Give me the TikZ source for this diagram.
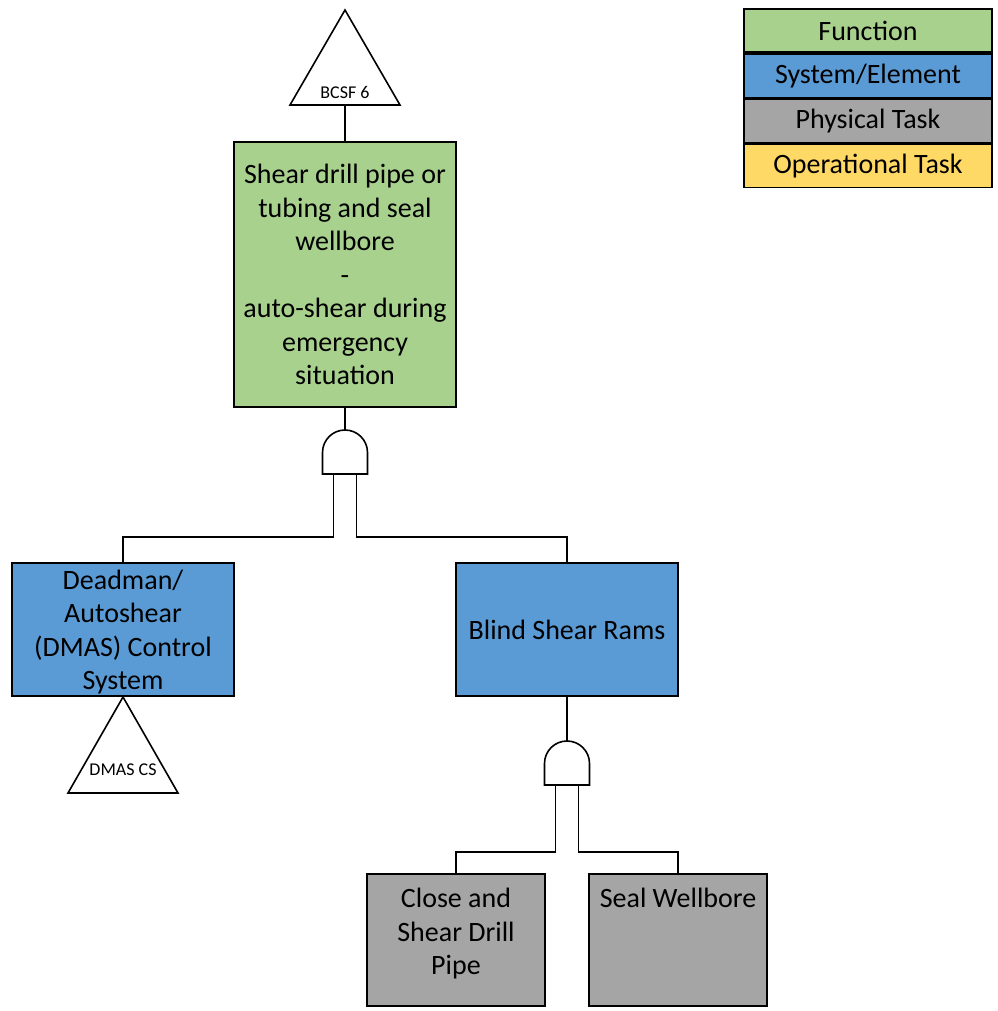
\documentclass[tikz,border=0pt]{standalone}
\usepackage{fontspec}
\setmainfont{Carlito}
\definecolor{fgreen}{HTML}{A9D18E}
\definecolor{fblue}{HTML}{5B9BD5}
\definecolor{fgray}{HTML}{A5A5A5}
\definecolor{fyellow}{HTML}{FFD966}
\tikzset{
  box/.style={draw=black, line width=1.6pt, inner sep=0pt, align=center,
    font=\fontsize{28}{33.5}\selectfont},
  boxtext/.style={inner sep=0pt, align=center, font=\fontsize{28}{33.5}\selectfont},
  legendbox/.style={draw=black, line width=1.6pt, inner sep=0pt,
    minimum width=248pt, minimum height=43.5pt, font=\fontsize{28}{32}\selectfont},
  wire/.style={draw=black, line width=1.6pt},
  tri/.style={draw=black, line width=1.6pt, fill=white},
  trilabel/.style={inner sep=0pt, font=\fontsize{18}{21}\selectfont},
  andgate/.style={draw=black, line width=1.6pt, fill=white},
}
\begin{document}
\begin{tikzpicture}[x=1pt,y=-1pt]
\useasboundingbox (0,0) rectangle (997,1011);

% transfer triangle above the top function
\coordinate (t1apex) at (345,10);
\coordinate (t1base) at (345,105);
\draw[tri] (t1apex) -- (400,105) -- (290,105) -- cycle;
\node[trilabel] (t1lab) at (345,92) {BCSF 6};

% top function
\node[box, fill=fgreen, minimum width=222pt, minimum height=265pt] (func) at (345,274.5)
  {Shear drill pipe or\\tubing and seal\\wellbore\\-\\auto-shear during\\emergency\\situation};
\draw[wire] (t1base) -- (func.north);

% AND gate 1 (y axis points down, so the dome is swept through 270 degrees)
\coordinate (g1top) at (345,430);
\coordinate (g1L) at (333.5,474);
\coordinate (g1R) at (356.5,474);
\draw[andgate] (322.5,474) -- (322.5,452.5) arc[start angle=180, end angle=360, radius=22.5] -- (367.5,474) -- cycle;
\draw[wire] (func.south) -- (g1top);

% system / element level
\node[box, fill=fblue, minimum width=222pt, minimum height=133pt] (dmas) at (123,629.5) {};
\node[boxtext] (dmastxt) at (123,632) {Deadman/\\Autoshear\\(DMAS) Control\\System};
\node[box, fill=fblue, minimum width=222pt, minimum height=133pt] (bsr) at (567,629.5)
  {Blind Shear Rams};
\draw[wire] (g1L) -- (333.5,537) -| (dmas.north);
\draw[wire] (g1R) -- (356.5,537) -| (bsr.north);

% transfer triangle below DMAS
\coordinate (t2apex) at (123,697);
\draw[tri] (t2apex) -- (178,793) -- (68,793) -- cycle;
\node[trilabel] (t2lab) at (123,770) {DMAS CS};

% AND gate 2
\coordinate (g2top) at (567,741);
\coordinate (g2L) at (555.5,785);
\coordinate (g2R) at (578.5,785);
\draw[andgate] (544.5,785) -- (544.5,763.5) arc[start angle=180, end angle=360, radius=22.5] -- (589.5,785) -- cycle;
\draw[wire] (bsr.south) -- (g2top);

% physical tasks
\node[box, fill=fgray, minimum width=178pt, minimum height=132pt] (close) at (456,940) {};
\node[boxtext, anchor=north] (closetxt) at (456,888) {Close and\\Shear Drill\\Pipe};
\node[box, fill=fgray, minimum width=178pt, minimum height=132pt] (seal) at (678,940) {};
\node[boxtext, anchor=north] (sealtxt) at (678,888) {Seal Wellbore};
\draw[wire] (g2L) -- (555.5,852) -| (close.north);
\draw[wire] (g2R) -- (578.5,852) -| (seal.north);

% legend
\node[legendbox, fill=fgreen] (lg1) at (868,30.5) {Function};
\node[legendbox, fill=fblue, anchor=north] (lg2) at (lg1.south) {System/Element};
\node[legendbox, fill=fgray, anchor=north] (lg3) at (lg2.south) {Physical Task};
\node[legendbox, fill=fyellow, anchor=north] (lg4) at (lg3.south) {Operational Task};
\end{tikzpicture}
\end{document}
